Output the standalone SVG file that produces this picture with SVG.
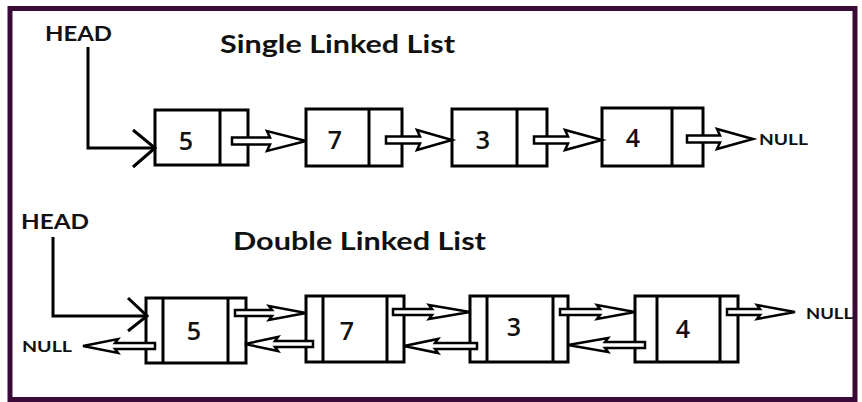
<svg xmlns="http://www.w3.org/2000/svg" width="862" height="402" viewBox="0 0 862 402">
  <style>
    .frame { fill: #ffffff; stroke: #3a0b38; stroke-width: 5; }
    .box { fill: #ffffff; stroke: #000000; stroke-width: 3; }
    .div { stroke: #000000; stroke-width: 3; }
    .val { font-family: "Open Sans", "Liberation Sans", sans-serif; font-size: 25px; font-weight: 600; fill: #111111; text-anchor: middle; }
    .lbl { font-family: "Lato", "Liberation Sans", sans-serif; font-weight: bold; fill: #111111; }
    .ptr { fill: #ffffff; stroke: #000000; stroke-width: 2.5; stroke-linejoin: miter; }
    .head { fill: none; stroke: #000000; stroke-width: 3; stroke-linejoin: miter; }
  </style>

  <rect class="frame" x="10" y="8.5" width="845" height="391"/>

  <!-- Singly linked list -->
  <text class="lbl" x="45" y="41" font-size="21" textLength="67" lengthAdjust="spacingAndGlyphs">HEAD</text>
  <text class="lbl" x="220" y="53" font-size="25" textLength="235" lengthAdjust="spacingAndGlyphs">Single Linked List</text>

  <g id="s1">
    <rect class="box" x="155" y="110" width="93" height="55"/>
    <line class="div" x1="220" y1="110" x2="220" y2="165"/>
    <text class="val" x="186" y="150">5</text>
  </g>
  <g id="s2">
    <rect class="box" x="306" y="109" width="96" height="57"/>
    <line class="div" x1="369" y1="109" x2="369" y2="166"/>
    <text class="val" x="335" y="149">7</text>
  </g>
  <g id="s3">
    <rect class="box" x="452" y="109" width="95" height="57"/>
    <line class="div" x1="517" y1="109" x2="517" y2="166"/>
    <text class="val" x="483" y="149">3</text>
  </g>
  <g id="s4">
    <rect class="box" x="602" y="108" width="101" height="58"/>
    <line class="div" x1="672" y1="108" x2="672" y2="166"/>
    <text class="val" x="633" y="147" font-weight="bold">4</text>
  </g>
  <text class="lbl" x="759" y="145" font-size="16" textLength="49" lengthAdjust="spacingAndGlyphs">NULL</text>

  <!-- Doubly linked list -->
  <text class="lbl" x="21" y="229" font-size="21" textLength="68" lengthAdjust="spacingAndGlyphs">HEAD</text>
  <text class="lbl" x="233" y="250" font-size="25" textLength="253" lengthAdjust="spacingAndGlyphs">Double Linked List</text>

  <g id="d1">
    <rect class="box" x="146" y="298" width="100" height="65"/>
    <line class="div" x1="163" y1="298" x2="163" y2="363"/>
    <line class="div" x1="228" y1="298" x2="228" y2="363"/>
    <text class="val" x="194" y="340">5</text>
  </g>
  <g id="d2">
    <rect class="box" x="306" y="296" width="98" height="66"/>
    <line class="div" x1="323" y1="296" x2="323" y2="362"/>
    <line class="div" x1="387" y1="296" x2="387" y2="362"/>
    <text class="val" x="347" y="340">7</text>
  </g>
  <g id="d3">
    <rect class="box" x="470" y="296" width="98" height="66"/>
    <line class="div" x1="487" y1="296" x2="487" y2="362"/>
    <line class="div" x1="553" y1="296" x2="553" y2="362"/>
    <text class="val" x="514" y="336">3</text>
  </g>
  <g id="d4">
    <rect class="box" x="635" y="296" width="103" height="66"/>
    <line class="div" x1="657" y1="296" x2="657" y2="362"/>
    <line class="div" x1="720" y1="296" x2="720" y2="362"/>
    <text class="val" x="683" y="338" font-weight="bold">4</text>
  </g>
  <text class="lbl" x="806" y="319" font-size="16" textLength="47" lengthAdjust="spacingAndGlyphs">NULL</text>
  <text class="lbl" x="22" y="352" font-size="16" textLength="50" lengthAdjust="spacingAndGlyphs">NULL</text>

  <g id="connectors">
    <!-- head pointers -->
    <polyline class="head" points="88,47 88,148 155,148"/>
    <polyline class="head" points="133,130 155,148 133,167"/>
    <polyline class="head" points="53,237 53,316 147,316"/>
    <polyline class="head" points="128,298 147,316 128,331"/>

    <!-- next pointers, singly linked -->
    <polygon class="ptr" points="232,137.5 270,137.5 267,131 306,141 267,151 270,144.5 232,144.5"/>
    <polygon class="ptr" points="386,136.5 420,136.5 417,130 452,140 417,150 420,143.5 386,143.5"/>
    <polygon class="ptr" points="534,136.5 568,136.5 565,130 602,140 565,150 568,143.5 534,143.5"/>
    <polygon class="ptr" points="687,135.5 720,135.5 717,129 753,139 717,149 720,142.5 687,142.5"/>

    <!-- next pointers, doubly linked -->
    <polygon class="ptr" points="235,310 272,310 269,306 306,313 269,320 272,316 235,316"/>
    <polygon class="ptr" points="393,309 432,309 429,305 470,312 429,319 432,315 393,315"/>
    <polygon class="ptr" points="560,309 600,309 597,305 635,312 597,319 600,315 560,315"/>
    <polygon class="ptr" points="727,309 760,309 757,305 795,312 757,319 760,315 727,315"/>

    <!-- prev pointers, doubly linked -->
    <polygon class="ptr" points="155,343 115,343 118,339 83,346 118,353 115,349 155,349"/>
    <polygon class="ptr" points="313,341 275,341 278,337 245,344 278,351 275,347 313,347"/>
    <polygon class="ptr" points="477,343 435,343 438,339 404,346 438,353 435,349 477,349"/>
    <polygon class="ptr" points="645,342 605,342 608,338 568,345 608,352 605,348 645,348"/>
  </g>
</svg>
